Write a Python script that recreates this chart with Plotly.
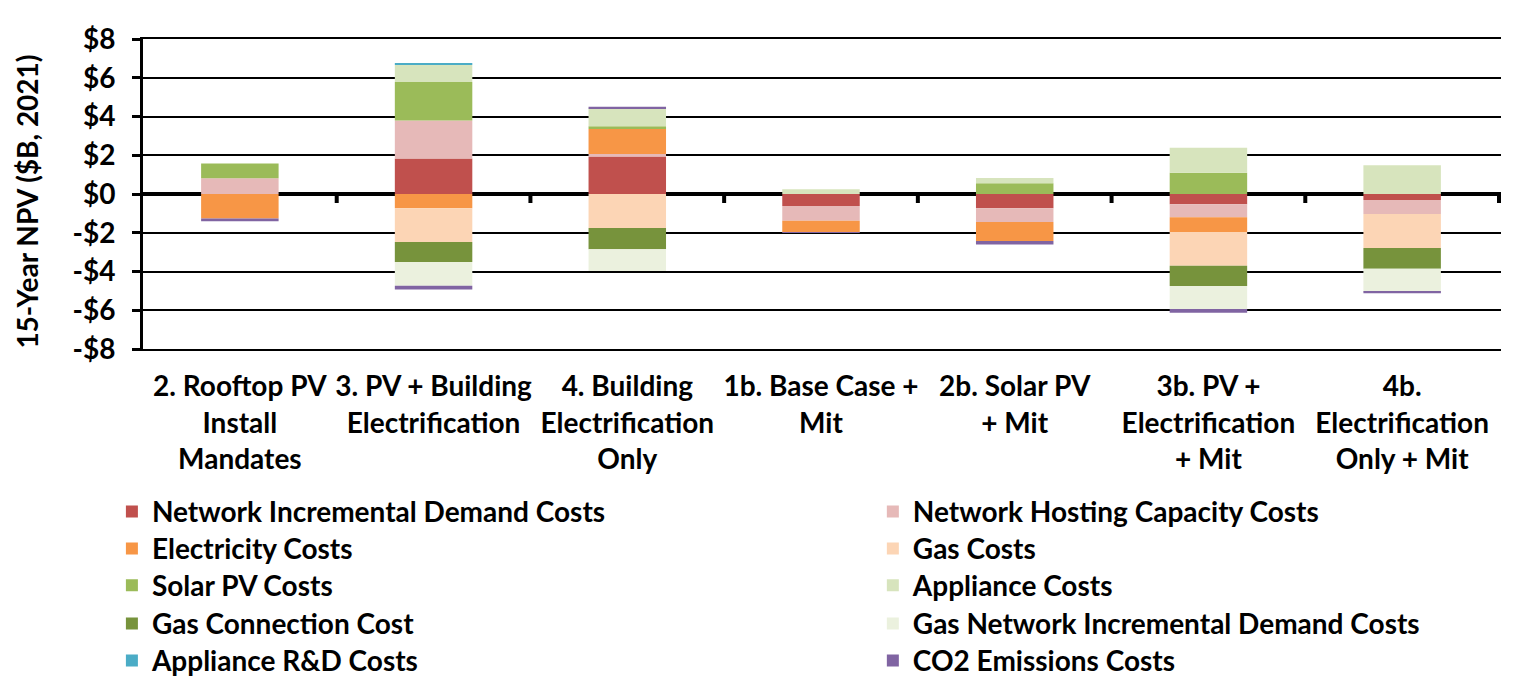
import plotly.graph_objects as go

# Scenario labels (x axis)
scenarios = [
    '2. Rooftop PV<br>Install<br>Mandates',
    '3. PV + Building<br>Electrification',
    '4. Building<br>Electrification<br>Only',
    '1b. Base Case +<br>Mit',
    '2b. Solar PV<br>+ Mit',
    '3b. PV +<br>Electrification<br>+ Mit',
    '4b.<br>Electrification<br>Only + Mit',
]

# 15-year NPV components, $B
network_incremental_demand = [0.0, 1.83, 1.93, -0.62, -0.74, -0.53, -0.31]
network_hosting_capacity = [0.81, 1.97, 0.14, -0.76, -0.71, -0.67, -0.72]
electricity = [-1.26, -0.74, 1.29, -0.60, -0.98, -0.76, 0.0]
gas = [0.0, -1.74, -1.76, 0.0, 0.0, -1.74, -1.76]
solar_pv = [0.76, 1.98, 0.14, 0.0, 0.55, 1.10, 0.0]
appliance = [0.0, 0.88, 0.91, 0.24, 0.28, 1.29, 1.48]
gas_connection = [0.0, -1.03, -1.09, 0.0, 0.0, -1.05, -1.07]
gas_network_incremental = [0.0, -1.22, -1.12, 0.0, 0.0, -1.19, -1.19]
appliance_rd = [0.0, 0.07, 0.0, 0.0, 0.0, 0.0, 0.0]
co2_emissions = [-0.15, -0.20, 0.09, -0.03, -0.17, -0.19, -0.07]

series = [
    ('Network Incremental Demand Costs', network_incremental_demand, '#C0504D'),
    ('Network Hosting Capacity Costs', network_hosting_capacity, '#E6B9B8'),
    ('Electricity Costs', electricity, '#F79646'),
    ('Gas Costs', gas, '#FCD5B5'),
    ('Solar PV Costs', solar_pv, '#9BBB59'),
    ('Appliance Costs', appliance, '#D7E4BD'),
    ('Gas Connection Cost', gas_connection, '#77933C'),
    ('Gas Network Incremental Demand Costs', gas_network_incremental, '#EBF1DE'),
    ('Appliance R&D Costs', appliance_rd, '#4BACC6'),
    ('CO2 Emissions Costs', co2_emissions, '#8064A2'),
]

y_ticks = [8, 6, 4, 2, 0, -2, -4, -6, -8]
y_labels = ['$8', '$6', '$4', '$2', '$0', '-$2', '-$4', '-$6', '-$8']

FONT = 'Lato'
FS = 28

# legend grid: 2 columns x 5 rows, one small legend per entry
legend_cols_x = [0.068, 0.566]
legend_rows_y = [0.305, 0.2515, 0.198, 0.1427, 0.089]

fig = go.Figure()
legends = {}
for k, (name, vals, color) in enumerate(series):
    leg_id = 'legend' if k == 0 else f'legend{k + 1}'
    fig.add_bar(
        x=scenarios,
        y=vals,
        name=name,
        marker=dict(color=color, line=dict(width=0)),
        width=0.4,
        legend=leg_id,
        showlegend=True,
    )
    legends[leg_id] = dict(
        xref='container', yref='container',
        x=legend_cols_x[k % 2], y=legend_rows_y[k // 2],
        xanchor='left', yanchor='top',
        font=dict(family=FONT, size=FS, weight='bold'),
        bgcolor='rgba(0,0,0,0)',
    )

# little tick marks hanging off the zero line between categories
for i in range(len(scenarios)):
    fig.add_shape(
        type='line', xref='x', yref='y',
        x0=i + 0.5, x1=i + 0.5,
        ysizemode='pixel', yanchor=0, y0=0, y1=-9,
        line=dict(color='black', width=4),
    )

# y axis title as a rotated annotation
fig.add_annotation(
    text='15-Year NPV ($B, 2021)',
    xref='paper', yref='paper',
    x=-0.099, y=0.474,
    textangle=-90, showarrow=False,
    font=dict(family=FONT, size=FS, weight='bold'),
)

fig.update_layout(
    barmode='relative',
    showlegend=True,
    width=1528,
    height=689,
    margin=dict(l=135, r=35, t=31, b=348, autoexpand=False),
    plot_bgcolor='white',
    paper_bgcolor='white',
    font=dict(family=FONT, color='black', size=FS),
    **legends,
)

fig.update_xaxes(
    showgrid=False,
    showline=True,
    mirror=True,
    linecolor='black',
    linewidth=1.5,
    ticks='',
    tickangle=0,
    ticklabelstandoff=12,
    tickfont=dict(family=FONT, size=FS, weight='bold'),
)

fig.update_yaxes(
    range=[-8, 8],
    tickvals=y_ticks,
    ticktext=y_labels,
    tickfont=dict(family=FONT, size=FS, weight='bold'),
    showgrid=True,
    gridcolor='black',
    gridwidth=1.5,
    showline=True,
    linecolor='black',
    linewidth=3,
    ticks='outside',
    ticklen=8,
    tickwidth=3,
    tickcolor='black',
    ticklabelstandoff=11,
    zeroline=True,
    zerolinecolor='black',
    zerolinewidth=4,
)

fig.write_html('out.html')
